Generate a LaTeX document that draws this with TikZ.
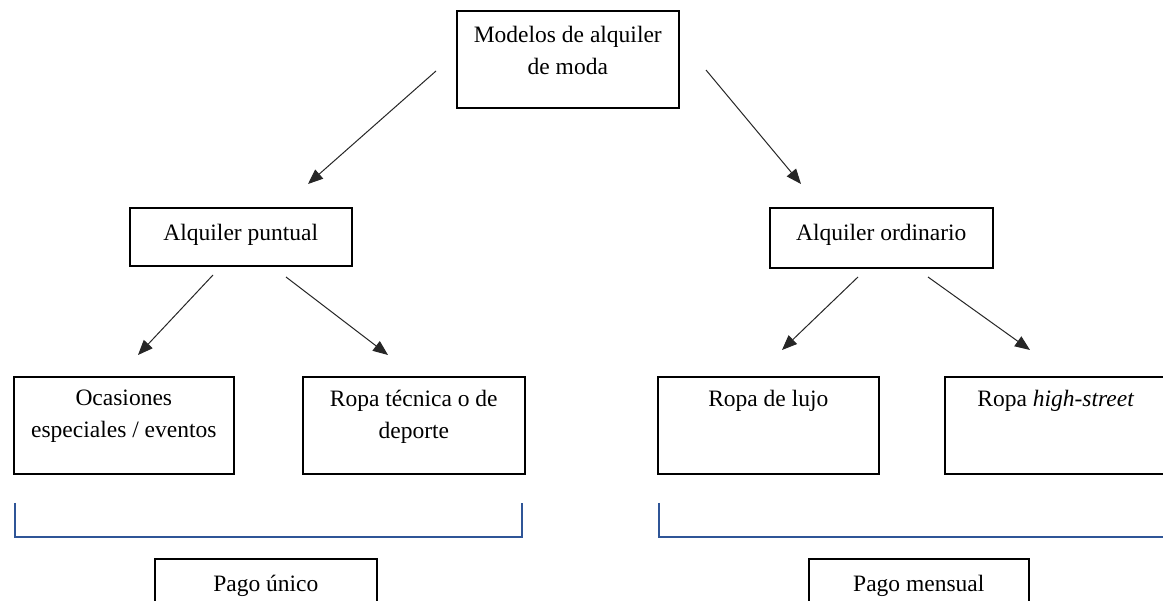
\documentclass[tikz,border=0pt]{standalone}
\usepackage{fontspec}
\setmainfont{Liberation Serif}
\usetikzlibrary{arrows.meta,calc}
\definecolor{brk}{RGB}{47,85,151}
\begin{document}
\begin{tikzpicture}[x=1pt,y=-1pt,
  box/.style={draw=black,line width=1.6pt,anchor=north west,inner sep=0pt},
  txt/.style={anchor=north,inner sep=0pt,align=center,font=\fontsize{23.5}{32}\selectfont},
  arr/.style={draw=black!85,line width=1pt,-{Triangle[length=15pt,width=12pt]}},
  bracketline/.style={draw=brk,line width=1.5pt}]
\clip (0,0) rectangle (1163,601);
\fill[white] (0,0) rectangle (1163,601);
% boxes
\node[box,minimum width=222pt,minimum height=97pt] (top) at (456,10) {};
\node[box,minimum width=222pt,minimum height=58pt] (pun) at (129,207) {};
\node[box,minimum width=223pt,minimum height=60pt] (ord) at (769,207) {};
\node[box,minimum width=220pt,minimum height=97pt] (oca) at (13,376) {};
\node[box,minimum width=222pt,minimum height=97pt] (tec) at (302,376) {};
\node[box,minimum width=221pt,minimum height=97pt] (luj) at (657,376) {};
\node[box,minimum width=222pt,minimum height=97pt] (hig) at (944,376) {};
\node[box,minimum width=222pt,minimum height=70pt] (unico) at (154,558) {};
\node[box,minimum width=220pt,minimum height=70pt] (mens) at (808,558) {};
% texts
\node[txt] (ttop) at ($(top.north)+(0,16)$) {Modelos de alquiler\\de moda};
\node[txt] (tpun) at ($(pun.north)+(0,17)$) {Alquiler puntual};
\node[txt] (tord) at ($(ord.north)+(0,17)$) {Alquiler ordinario};
\node[txt] (toca) at ($(oca.north)+(0,14)$) {Ocasiones\\especiales / eventos};
\node[txt] (ttec) at ($(tec.north)+(0,14)$) {Ropa técnica o de\\deporte};
\node[txt] (tluj) at ($(luj.north)+(0,14)$) {Ropa de lujo};
\node[txt] (thig) at ($(hig.north)+(0,14)$) {Ropa \textit{high-street}};
\node[txt] (tuni) at ($(unico.north)+(0,17)$) {Pago único};
\node[txt] (tmen) at ($(mens.north)+(0,17)$) {Pago mensual};
% arrow end points
\coordinate (a1s) at (436,71);  \coordinate (a1e) at (308,184);
\coordinate (a2s) at (706,70);  \coordinate (a2e) at (801,184);
\coordinate (a3s) at (213,275); \coordinate (a3e) at (138,355);
\coordinate (a4s) at (286,277); \coordinate (a4e) at (388,355);
\coordinate (a5s) at (858,277); \coordinate (a5e) at (782,350);
\coordinate (a6s) at (928,277); \coordinate (a6e) at (1030,350);
\draw[arr] (a1s) -- (a1e);
\draw[arr] (a2s) -- (a2e);
\draw[arr] (a3s) -- (a3e);
\draw[arr] (a4s) -- (a4e);
\draw[arr] (a5s) -- (a5e);
\draw[arr] (a6s) -- (a6e);
% brackets
\coordinate (b1a) at (15,503); \coordinate (b1b) at (522,503);
\coordinate (b2a) at (659,503); \coordinate (b2b) at (1170,537);
\draw[bracketline] (b1a) |- (b1b |- 0,537) -- (b1b);
\draw[bracketline] (b2a) |- (b2b);
\end{tikzpicture}
\end{document}
